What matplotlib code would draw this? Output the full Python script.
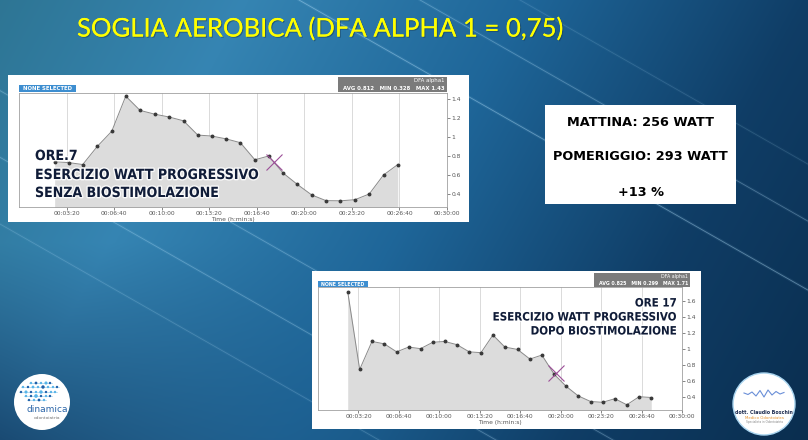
import numpy as np
import matplotlib
matplotlib.use('Agg')
import matplotlib.pyplot as plt
from matplotlib.patches import Rectangle, Circle
import matplotlib.patheffects as pe

W, H = 808, 440

# ---------------- data ----------------
title = "SOGLIA AEROBICA (DFA ALPHA 1 = 0,75)"
tick_seconds = [200, 400, 600, 800, 1000, 1200, 1400, 1600, 1800]
tick_labels = ["00:03:20", "00:06:40", "00:10:00", "00:13:20", "00:16:40",
               "00:20:00", "00:23:20", "00:26:40", "00:30:00"]

morning_time = [150, 210, 268, 329, 390, 449, 509, 571, 632, 692, 752, 811, 871,
                931, 992, 1050, 1111, 1171, 1231, 1291, 1352, 1413, 1473, 1533, 1593]
morning_dfa = [0.74, 0.73, 0.71, 0.90, 1.06, 1.43, 1.28, 1.24, 1.21, 1.17, 1.02, 1.01, 0.98,
               0.94, 0.76, 0.80, 0.62, 0.50, 0.39, 0.33, 0.328, 0.34, 0.40, 0.60, 0.71]
morning_cross = (1073, 0.733)
morning_yticks = [0.4, 0.6, 0.8, 1.0, 1.2, 1.4]
morning_ylabels = ["0.4", "0.6", "0.8", "1", "1.2", "1.4"]
morning_stats = "AVG 0.812   MIN 0.328   MAX 1.43"
morning_caption = ["ORE.7", "ESERCIZIO WATT PROGRESSIVO", "SENZA BIOSTIMOLAZIONE"]

afternoon_time = [147, 206, 267, 328, 389, 448, 507, 568, 626, 687, 748, 806, 865,
                  924, 987, 1048, 1107, 1168, 1227, 1287, 1348, 1407, 1468, 1527, 1588, 1648]
afternoon_dfa = [1.71, 0.74, 1.09, 1.06, 0.96, 1.02, 1.00, 1.08, 1.09, 1.05, 0.96, 0.95, 1.17,
                 1.02, 0.99, 0.87, 0.92, 0.68, 0.53, 0.41, 0.34, 0.33, 0.375, 0.299, 0.40, 0.39]
afternoon_cross = (1175, 0.69)
afternoon_yticks = [0.4, 0.6, 0.8, 1.0, 1.2, 1.4, 1.6]
afternoon_ylabels = ["0.4", "0.6", "0.8", "1", "1.2", "1.4", "1.6"]
afternoon_stats = "AVG 0.825   MIN 0.299   MAX 1.71"
afternoon_caption = ["ORE 17", "ESERCIZIO WATT PROGRESSIVO", "DOPO BIOSTIMOLAZIONE"]

summary_lines = ["MATTINA: 256 WATT", "POMERIGGIO: 293 WATT", "+13 %"]

# ---------------- figure ----------------
fig = plt.figure(figsize=(W / 100, H / 100), dpi=100)
bg = fig.add_axes([0, 0, 1, 1])
bg.set_xlim(0, W)
bg.set_ylim(H, 0)
bg.axis('off')

# background gradient
yy, xx = np.mgrid[0:H, 0:W]
u = xx / W
v = yy / H
s = u + 0.3 * v
anch = [0.0, 0.3, 0.65, 1.0, 1.3]
cols = np.array([[0.18, 0.46, 0.58], [0.21, 0.52, 0.70], [0.12, 0.40, 0.60],
                 [0.06, 0.24, 0.40], [0.04, 0.18, 0.31]])
img = np.stack([np.interp(s, anch, cols[:, c]) for c in range(3)], axis=-1)
w = np.clip((v - 0.55) / 0.45, 0, 1) * np.clip(1 - u / 0.45, 0, 1)
dark = np.array([0.10, 0.29, 0.45])
img = img * (1 - w[..., None]) + dark * w[..., None]
bg.imshow(img, extent=(0, W, H, 0), aspect='auto', zorder=0)

# light streaks
for x0, a in [(-393, 0.2), (-276, 0.3), (-159, 0.3), (299, 0.4), (420, 0.3), (520, 0.15)]:
    xs = np.array([x0, x0 + 1200])
    ys = 0.57 * (xs - x0)
    bg.plot(xs, ys, color='#a8e0ff', lw=2.2, alpha=a * 0.2, zorder=1)
    bg.plot(xs, ys, color='#bfe8ff', lw=0.6, alpha=a, zorder=1)

# title
bg.text(77, 29, title, color='#ffff00', fontsize=18.5, family=['Lato', 'DejaVu Sans'],
        ha='left', va='center', zorder=5,
        path_effects=[pe.withSimplePatchShadow(offset=(0.8, -0.8), shadow_rgbFace='#1a3a50', alpha=0.5),
                      pe.Normal()])

# white panels
bg.add_patch(Rectangle((8, 75), 461, 147, facecolor='white', edgecolor='none', zorder=2))
bg.add_patch(Rectangle((312, 271), 389, 158, facecolor='white', edgecolor='none', zorder=2))
bg.add_patch(Rectangle((545, 105), 191, 99, facecolor='white', edgecolor='none', zorder=2))


def px_axes(x0, y0, x1, y1):
    return fig.add_axes([x0 / W, 1 - y1 / H, (x1 - x0) / W, (y1 - y0) / H])


def header(ns_box, gray_box, stats, fs):
    x0, y0, x1, y1 = ns_box
    bg.add_patch(Rectangle((x0, y0), x1 - x0, y1 - y0, facecolor='#3d8ed0', edgecolor='none', zorder=3))
    bg.text((x0 + x1) / 2, (y0 + y1) / 2, "NONE SELECTED", color='white', fontsize=fs,
            fontweight='bold', ha='center', va='center', zorder=4)
    x0, y0, x1, y1 = gray_box
    bg.add_patch(Rectangle((x0, y0), x1 - x0, y1 - y0, facecolor='#7b7b7b', edgecolor='none', zorder=3))
    bg.text(x1 - 2, y0 + 3.8, "DFA alpha1", color='white', fontsize=fs,
            ha='right', va='center', zorder=4)
    bg.text(x1 - 2, y1 - 3.6, stats, color='white', fontsize=fs, fontweight='bold',
            ha='right', va='center', zorder=4)


def draw_chart(rect, t, vals, ylim, yticks, ylabels, cross):
    ax = px_axes(*rect)
    ax.set_facecolor('white')
    ax.fill_between(t, vals, 0, color='#dcdcdc', lw=0, zorder=1)
    ax.plot(t, vals, color='#8a8a8a', lw=0.7, zorder=2)
    ax.plot(t, vals, ls='none', marker='o', ms=1.8, color='#3a3a3a', zorder=3)
    ax.plot(cross[0], cross[1], marker='x', ms=11.5, mew=0.8, color='#9c4f98', zorder=4)
    ax.set_xlim(0, 1800)
    ax.set_ylim(*ylim)
    ax.set_xticks(tick_seconds, tick_labels)
    ax.set_yticks(yticks, ylabels)
    ax.yaxis.tick_right()
    ax.tick_params(labelsize=4.3, colors='#555555', length=2, width=0.5, pad=1)
    ax.grid(axis='x', color='#d4d4d4', lw=0.6)
    ax.set_axisbelow(True)
    for sp in ax.spines.values():
        sp.set_color('#a0a0a0')
        sp.set_linewidth(0.6)
    ax.set_xlabel('Time (h:min:s)', fontsize=4.3, color='#555555', labelpad=0.5)
    return ax


draw_chart((19, 93, 447, 207), morning_time, morning_dfa, (0.263, 1.463),
           morning_yticks, morning_ylabels, morning_cross)
header((19, 85, 76, 92), (338, 77, 447, 92), morning_stats, 3.9)

draw_chart((318, 287, 682, 410), afternoon_time, afternoon_dfa, (0.234, 1.77),
           afternoon_yticks, afternoon_ylabels, afternoon_cross)
header((318, 281, 368, 287), (594, 273, 690, 287), afternoon_stats, 3.4)

# captions over charts
cap_family = ['DejaVu Sans']
stroke = [pe.withStroke(linewidth=2.0, foreground='white', alpha=0.85)]
for txt, yc in zip(morning_caption, [156, 175, 193]):
    fig.text(35, yc, txt, transform=bg.transData, color='#101c38', fontsize=10.1,
             family=cap_family, fontweight='bold', fontstretch='condensed',
             ha='left', va='center', path_effects=stroke, zorder=10)
for txt, yc in zip(afternoon_caption, [303, 317, 331]):
    fig.text(677, yc, txt, transform=bg.transData, color='#101c38', fontsize=8.3,
             family=cap_family, fontweight='bold', fontstretch='condensed',
             ha='right', va='center', path_effects=stroke, zorder=10)

# summary box text
for txt, yc in zip(summary_lines, [122, 157, 193]):
    bg.text(640.5, yc, txt, color='black', fontsize=9.3, fontweight='bold',
            ha='center', va='center', zorder=5)

# logos
bg.add_patch(Circle((42, 402), 28, facecolor='white', edgecolor='none', zorder=3))
dot_x = [31, 36, 41, 46, 50, 23, 28, 33, 38, 43, 48, 53, 57, 21, 26, 31, 36, 41, 46, 51, 55,
         26, 31, 36, 41, 46, 50, 29, 34, 39, 44]
dot_y = [383, 383, 383, 383, 383, 387, 387, 387, 387, 387, 387, 387, 387,
         392, 392, 392, 392, 392, 392, 392, 392, 396, 396, 396, 396, 396, 396, 400, 400, 400, 400]
dot_c = ['#58b4e8', '#1f5fa8', '#58b4e8', '#58b4e8', '#1f5fa8',
         '#58b4e8', '#1f5fa8', '#58b4e8', '#58b4e8', '#1f5fa8', '#58b4e8', '#58b4e8', '#1f5fa8',
         '#1f5fa8', '#58b4e8', '#1f5fa8', '#58b4e8', '#58b4e8', '#1f5fa8', '#58b4e8', '#58b4e8',
         '#58b4e8', '#1f5fa8', '#58b4e8', '#1f5fa8', '#58b4e8', '#1f5fa8',
         '#1f5fa8', '#58b4e8', '#1f5fa8', '#58b4e8']
dot_s = [3, 4, 3, 5, 3, 3, 3, 4, 3, 6, 3, 3, 3, 3, 5, 3, 3, 6, 3, 3, 3, 3, 3, 7, 3, 3, 3, 3, 3, 4, 3]
for yl, xa, xb in [(383, 29, 52), (387, 21, 59), (392, 19, 57), (396, 24, 52), (400, 27, 46)]:
    bg.plot([xa, xb], [yl, yl], color='#9fd3f2', lw=0.5, zorder=4)
bg.scatter(dot_x, dot_y, s=dot_s, c=dot_c, zorder=5, linewidths=0)
bg.text(47, 410, "dinamica", color='#2b65a8', fontsize=6.5, ha='center', va='center', zorder=5)
bg.text(47, 418, "odontoiatria", color='#777777', fontsize=3.2, ha='center', va='center', zorder=5)

bg.add_patch(Circle((764, 404), 31, facecolor='white', edgecolor='#a8d4ef', lw=1.0, zorder=3))
wave = [0, 1.5, -1, 3, -2.5, 4, -3, 2, -1.5, 1, -0.5]
wave_x = [744, 748, 752, 756, 760, 764, 768, 772, 776, 780, 784]
bg.plot(wave_x, [393 + w_ for w_ in wave], color='#6a8fd8', lw=0.8, zorder=4)
bg.text(764, 412, "dott. Claudio Boschin", color='#1d2b4f', fontsize=3.4, fontweight='bold',
        ha='center', va='center', zorder=5)
bg.text(764, 418, "Medico Odontoiatra", color='#e8902a', fontsize=2.8,
        ha='center', va='center', zorder=5)
bg.text(764, 422.5, "Specialista in Odontoiatria", color='#888888', fontsize=2.1,
        ha='center', va='center', zorder=5)

fig.savefig('out.png', dpi=100)
